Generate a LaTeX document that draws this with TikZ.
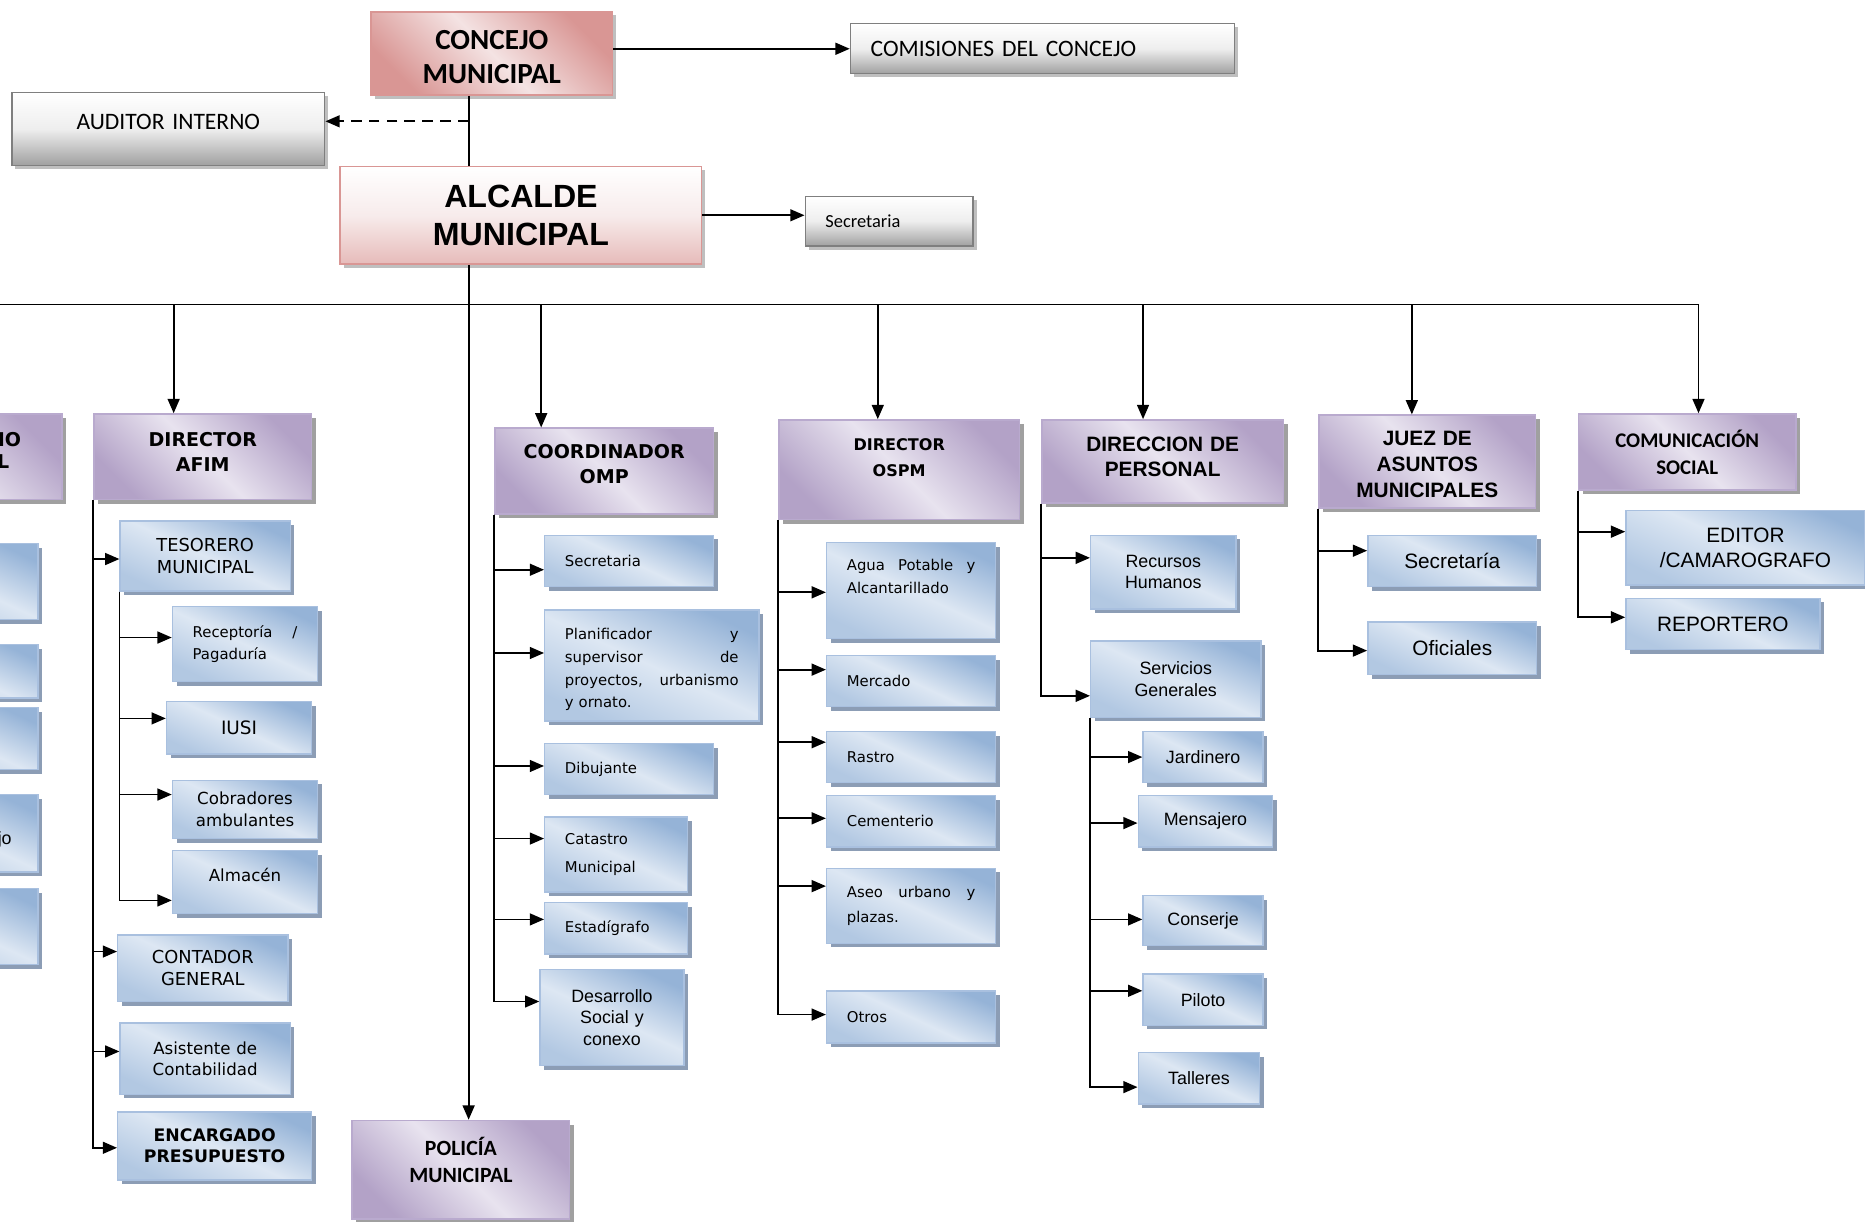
\documentclass[tikz,border=0pt]{standalone}
\usepackage{fontspec}
\newfontfamily\calfont{Carlito}
\newfontfamily\arfont{Liberation Sans}
\newfontfamily\verfont{DejaVu Sans}
\usetikzlibrary{arrows.meta,shadows}

\definecolor{pinkD}{HTML}{D99694}
\definecolor{pinkL}{HTML}{F4E3E3}
\definecolor{grayD}{HTML}{A0A0A0}
\definecolor{grayB}{HTML}{7F7F7F}
\definecolor{grayS}{HTML}{BFBFBF}
\definecolor{purD}{HTML}{B3A2C7}
\definecolor{purL}{HTML}{E8E3EF}
\definecolor{purB}{HTML}{B9AACE}
\definecolor{bluD}{HTML}{95B3D7}
\definecolor{bluL}{HTML}{DDE7F3}
\definecolor{bluB}{HTML}{A9C0DF}
\definecolor{bluS}{HTML}{8C9DB5}

% empty space under (or over) the text, so that it sits higher (or lower) in its box
\newcommand{\raisetxt}[1]{\par\nointerlineskip\vspace{#1}\null}
\newcommand{\lowertxt}[1]{\null\par\nointerlineskip\vspace{#1}}

\tikzset{
  unit/.style={rectangle, inner xsep=17pt, inner ysep=2pt, align=center, line width=1.2pt},
  pinkbox/.style={unit, draw=pinkD, top color=pinkD, bottom color=pinkD, middle color=pinkL, shading angle=-45,
    drop shadow={shadow xshift=3pt, shadow yshift=-3pt, fill=grayS, opacity=1}},
  redbox/.style={unit, draw=pinkD, top color=white, bottom color=pinkD!65!white, middle color=pinkL!70!white,
    drop shadow={shadow xshift=3pt, shadow yshift=-3pt, fill=grayS, opacity=1}},
  graybox/.style={unit, draw=grayB, top color=white, bottom color=grayD, middle color=white!82!grayD,
    drop shadow={shadow xshift=3pt, shadow yshift=-3pt, fill=grayS, opacity=1}},
  purbox/.style={unit, draw=purB, top color=purD, bottom color=purD, middle color=purL, shading angle=-45,
    drop shadow={shadow xshift=3.5pt, shadow yshift=-3.5pt, fill=grayD, opacity=1}},
  bluebox/.style={unit, draw=bluB, top color=bluD, bottom color=bluD!60!bluL, middle color=bluL, shading angle=-25,
    drop shadow={shadow xshift=3.5pt, shadow yshift=-3.5pt, fill=bluS, opacity=1}},
  arr/.style={-{Triangle[length=12pt,width=10pt]}, line width=1.5pt},
  link/.style={line width=1.5pt},
  tc/.style={font=\calfont\fontsize{19.8}{24}\selectfont},
  hc/.style={font=\calfont\bfseries\fontsize{17.5}{22.5}\selectfont},
  hv/.style={font=\verfont\bfseries\fontsize{16}{21}\selectfont},
  ha/.style={font=\arfont\bfseries\fontsize{17.5}{21.5}\selectfont},
  tv/.style={font=\verfont\fontsize{12.5}{19}\selectfont},
  tvm/.style={font=\verfont\fontsize{14}{18}\selectfont},
  tvl/.style={font=\verfont\fontsize{15}{18}\selectfont},
  ta/.style={font=\arfont\fontsize{15}{18}\selectfont},
  tal/.style={font=\arfont\fontsize{17.5}{21}\selectfont}
}

\begin{document}
\begin{tikzpicture}[x=1pt,y=-1pt]
\useasboundingbox[fill=white] (0,0) rectangle (1568,1027);

% top of the chart
\node[pinkbox, font=\calfont\bfseries\fontsize{24.5}{29}\selectfont, text width=169pt, minimum height=70pt] (concejo) at (413.5,45) {\lowertxt{6pt}CONCEJO\\MUNICIPAL};
\node[graybox, tc, align=left, text width=289pt, minimum height=42pt] (comisiones) at (876.5,41) {COMISIONES DEL CONCEJO};
\node[graybox, tc, text width=229pt, minimum height=61pt] (auditor) at (141.5,108.5) {AUDITOR INTERNO\raisetxt{12pt}};
\node[redbox, font=\arfont\bfseries\fontsize{27}{32}\selectfont, text width=270pt, minimum height=82pt] (alcalde) at (438,181) {ALCALDE\\MUNICIPAL};
\node[graybox, font=\calfont\fontsize{15.5}{18}\selectfont, align=left, text width=107pt, minimum height=42pt] (secalc) at (747.5,186) {Secretaria};

% column cut by the left edge
\node[purbox, minimum width=202pt, minimum height=72pt] (secmun) at (-49,384) {};
\node[hv, anchor=east, inner sep=0pt] (secmunA) at (18,369.5) {IO};
\node[hv, anchor=east, inner sep=0pt] (secmunB) at (8,388) {L};
\node[bluebox, minimum width=132pt, minimum height=64pt] (lf1) at (-34,489) {};
\node[bluebox, minimum width=132pt, minimum height=45pt] (lf2) at (-34,564.5) {};
\node[bluebox, minimum width=132pt, minimum height=52pt] (lf3) at (-34,621) {};
\node[bluebox, minimum width=132pt, minimum height=65pt] (lf4) at (-34,700.5) {};
\node[ta, anchor=east, inner sep=0pt] (lf4txt) at (10,706) {jo};
\node[bluebox, minimum width=132pt, minimum height=64pt] (lf5) at (-34,779) {};

% AFIM
\node[purbox, hv, text width=149pt, minimum height=72pt] (afim) at (170.5,384) {DIRECTOR\\AFIM\raisetxt{8pt}};
\node[bluebox, tvl, text width=109pt, minimum height=59pt] (tesorero) at (172.5,467.5) {TESORERO\\MUNICIPAL};
\node[bluebox, tv, align=left, text width=88pt, minimum height=63pt] (receptoria) at (206,541.5) {Receptoría \hfill /\\Pagaduría};
\node[bluebox, font=\verfont\fontsize{15.5}{18}\selectfont, text width=88pt, minimum height=44pt] (iusi) at (201,612) {IUSI};
\node[bluebox, tvm, text width=88pt, minimum height=49pt] (cobradores) at (206,680.5) {Cobradores\\ambulantes};
\node[bluebox, tvm, text width=88pt, minimum height=53pt] (almacen) at (206,741.5) {Almacén\raisetxt{12pt}};
\node[bluebox, tvl, text width=109pt, minimum height=56pt] (contador) at (170.5,814) {CONTADOR\\GENERAL};
\node[bluebox, tvm, text width=109pt, minimum height=60pt] (asistente) at (172.5,890) {Asistente de\\Contabilidad};
\node[bluebox, font=\verfont\bfseries\fontsize{14.5}{18}\selectfont, text width=129pt, minimum height=57pt] (encargado) at (180.5,963.5) {ENCARGADO\\PRESUPUESTO};

% OMP
\node[purbox, hv, text width=150pt, minimum height=72pt] (omp) at (508,396) {COORDINADOR\\OMP\raisetxt{11pt}};
\node[bluebox, tv, align=left, text width=108pt, minimum height=43pt] (secomp) at (529,471.5) {Secretaria};
\node[bluebox, tv, align=left, text width=146pt, minimum height=93pt] (planif) at (548,559.5) {\lowertxt{7pt}Planificador \hfill y\\supervisor \hfill de\\proyectos, \hfill urbanismo\\y ornato.};
\node[bluebox, tv, align=left, text width=108pt, minimum height=43pt] (dibuj) at (529,646.5) {Dibujante};
\node[bluebox, tv, align=left, text width=86pt, minimum height=63pt] (catastro) at (518,718.5) {Catastro\\[4pt]Municipal};
\node[bluebox, tv, align=left, text width=86pt, minimum height=43pt] (estad) at (518,780.5) {Estadígrafo};
\node[bluebox, ta, text width=87pt, minimum height=81pt] (desarr) at (514.5,855.5) {Desarrollo\\Social y\\conexo};

% OSPM
\node[purbox, font=\verfont\bfseries\fontsize{13.5}{22}\selectfont, text width=168pt, minimum height=84pt] (ospm) at (756,395) {DIRECTOR\\OSPM\raisetxt{20pt}};
\node[bluebox, tv, align=left, text width=108pt, minimum height=81pt] (agua) at (766,496.5) {Agua \hfill Potable \hfill y\\Alcantarillado\raisetxt{24pt}};
\node[bluebox, tv, align=left, text width=108pt, minimum height=43pt] (mercado) at (766,572.5) {Mercado};
\node[bluebox, tv, align=left, text width=108pt, minimum height=43pt] (rastro) at (766,636.5) {Rastro};
\node[bluebox, tv, align=left, text width=108pt, minimum height=43pt] (cement) at (766,690.5) {Cementerio};
\node[bluebox, tv, align=left, text width=108pt, minimum height=63pt] (aseo) at (766,761.5) {Aseo \hfill urbano \hfill y\\[2pt]plazas.};
\node[bluebox, tv, align=left, text width=108pt, minimum height=44pt] (otros) at (766,855) {Otros};

% PERSONAL
\node[purbox, ha, text width=169pt, minimum height=70pt] (pers) at (977.5,388) {DIRECCION DE\\PERSONAL\raisetxt{8pt}};
\node[bluebox, ta, text width=88pt, minimum height=62pt] (recursos) at (978,481) {Recursos\\Humanos};
\node[bluebox, ta, text width=109pt, minimum height=64pt] (servicios) at (988.5,571) {Servicios\\Generales};
\node[bluebox, ta, text width=67pt, minimum height=43pt] (jardin) at (1011.5,636.5) {Jardinero};
\node[bluebox, ta, text width=79pt, minimum height=43pt] (mensaj) at (1013.5,690.5) {Mensajero};
\node[bluebox, ta, text width=67pt, minimum height=42pt] (conserje) at (1011.5,774) {Conserje};
\node[bluebox, ta, text width=67pt, minimum height=43pt] (piloto) at (1011.5,840.5) {Piloto};
\node[bluebox, ta, text width=68pt, minimum height=43pt] (talleres) at (1008,906.5) {Talleres};

% JUEZ
\node[purbox, ha, text width=148pt, minimum height=78pt] (juez) at (1200,388) {\lowertxt{5pt}JUEZ DE\\ASUNTOS\\MUNICIPALES};
\node[bluebox, tal, text width=108pt, minimum height=43pt] (secjuez) at (1221,471.5) {Secretaría};
\node[bluebox, tal, text width=108pt, minimum height=44pt] (oficiales) at (1221,545) {Oficiales};

% COMUNICACION
\node[purbox, hc, text width=149pt, minimum height=64pt] (comsoc) at (1418.5,380) {COMUNICACIÓN\\SOCIAL};
\node[bluebox, tal, text width=167pt, minimum height=63pt] (editor) at (1467.5,460.5) {EDITOR\\/CAMAROGRAFO};
\node[bluebox, tal, text width=129pt, minimum height=43pt] (reportero) at (1448.5,524.5) {REPORTERO};

\node[purbox, hc, font=\calfont\bfseries\fontsize{18.3}{22.5}\selectfont, text width=149pt, minimum height=83pt] (policia) at (387.5,983.5) {POLICÍA\\MUNICIPAL\raisetxt{17pt}};

% connectors
\coordinate (spine) at (394,256);
\coordinate (audjoin) at (394,102);
\coordinate (busW) at (-5,256);
\coordinate (busE) at (1428,256);
\draw[arr] (concejo.east |- comisiones.west) -- (comisiones.west);
\draw[link] (concejo.south -| spine) -- (alcalde.north -| spine);
\draw[arr, dash pattern=on 9pt off 6pt] (audjoin) -- (audjoin -| auditor.east);
\draw[arr] (alcalde.east) -- (alcalde.east -| secalc.west);
\draw[arr] (alcalde.south -| spine) -- (policia.north -| spine);
\draw[line width=1.2pt] (busW) -- (busE);
\foreach \n/\x in {afim/146, omp/455, ospm/738, pers/961, juez/1187, comsoc/1428}
  \draw[arr] (\x,256) -- (\x,0 |- \n.north);

\foreach \n/\s in {tesorero/-2.5pt, contador/14pt, asistente/6pt, encargado/-1.5pt}
  \draw[arr] (afim.south west) |- ([yshift=\s]\n.west);
\foreach \n/\s in {receptoria/5.5pt, iusi/8pt, cobradores/12.5pt, almacen/-15.5pt}
  \draw[arr] (tesorero.south west) |- ([yshift=\s]\n.west);
\foreach \n/\s in {secomp/-7.5pt, planif/10.5pt, dibuj/2.5pt, catastro/13.5pt, estad/7.5pt, desarr/13.5pt}
  \draw[arr] (omp.south west) |- ([yshift=\s]\n.west);
\foreach \n/\s in {agua/-1.5pt, mercado/9.5pt, rastro/12.5pt, cement/2.5pt, aseo/16.5pt, otros/2pt}
  \draw[arr] (ospm.south west) |- ([yshift=\s]\n.west);
\foreach \n/\s in {recursos/12pt, servicios/-14pt}
  \draw[arr] (pers.south west) |- ([yshift=\s]\n.west);
\foreach \n/\s in {jardin/0pt, mensaj/-1.5pt, conserje/1pt, piloto/7.5pt, talleres/-7.5pt}
  \draw[arr] (servicios.south west) |- ([yshift=\s]\n.west);
\foreach \n/\s in {secjuez/8.5pt, oficiales/-2pt}
  \draw[arr] (juez.south west) |- ([yshift=\s]\n.west);
\foreach \n/\s in {editor/13.5pt, reportero/5.5pt}
  \draw[arr] (comsoc.south west) |- ([yshift=\s]\n.west);
\end{tikzpicture}
\end{document}
